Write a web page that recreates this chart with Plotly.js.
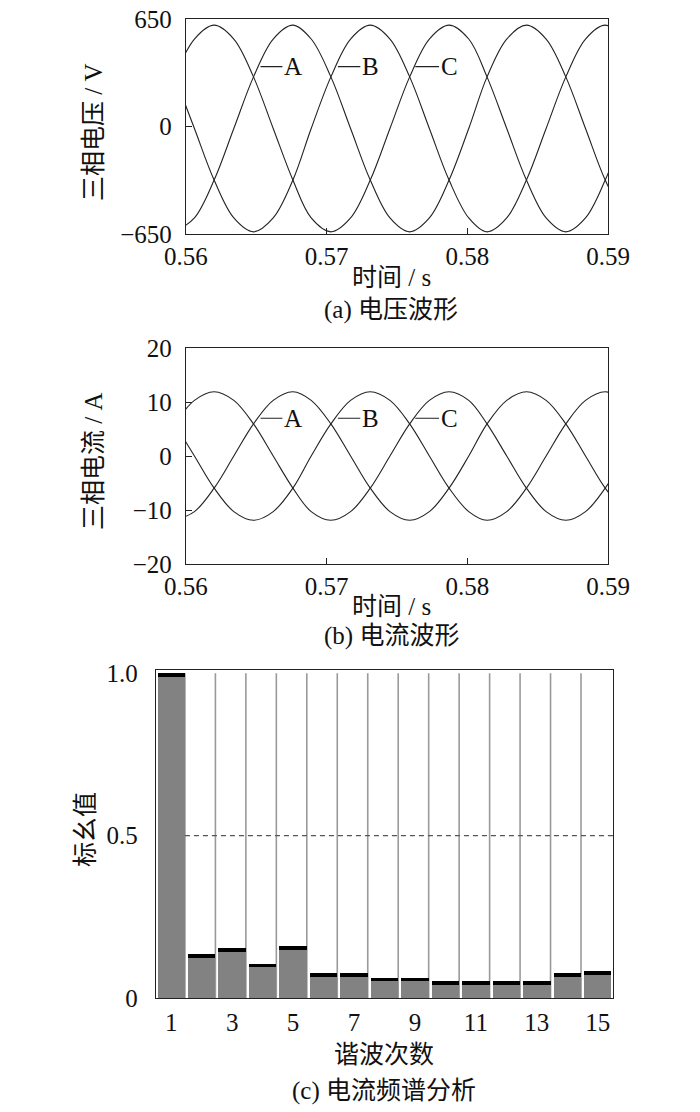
<!DOCTYPE html>
<html>
<head>
<meta charset="utf-8">
<script src="https://cdn.plot.ly/plotly-3.0.1.min.js"></script>
<style>
  html, body { margin: 0; padding: 0; background: #fff; }
  #chart { width: 700px; height: 1112px; }
</style>
</head>
<body>
<div id="chart"></div>
<script>
// ---- time axis (s) ----
const time = [0.5592, 0.5606, 0.5620, 0.5634, 0.5648, 0.5662, 0.5676, 0.5689,
              0.5703, 0.5717, 0.5731, 0.5745, 0.5759, 0.5773, 0.5787, 0.5801,
              0.5814, 0.5828, 0.5842, 0.5856, 0.5870, 0.5884, 0.5898, 0.5912];

// ---- three-phase voltage (V) ----
const voltA = [300, 529, 613, 529, 300, -12, -324, -553, -637, -553, -324, -12,
               300, 529, 613, 529, 300, -12, -324, -553, -637, -553, -324, -12];
const voltB = [-637, -553, -324, -12, 300, 529, 613, 529, 300, -12, -324, -553,
               -637, -553, -324, -12, 300, 529, 613, 529, 300, -12, -324, -553];
const voltC = [300, -12, -324, -553, -637, -553, -324, -12, 300, 529, 613, 529,
               300, -12, -324, -553, -637, -553, -324, -12, 300, 529, 613, 529];

// ---- three-phase current (A) ----
const currA = [5.95, 10.3, 11.9, 10.3, 5.95, 0, -5.95, -10.3, -11.9, -10.3, -5.95, 0,
               5.95, 10.3, 11.9, 10.3, 5.95, 0, -5.95, -10.3, -11.9, -10.3, -5.95, 0];
const currB = [-11.9, -10.3, -5.95, 0, 5.95, 10.3, 11.9, 10.3, 5.95, 0, -5.95, -10.3,
               -11.9, -10.3, -5.95, 0, 5.95, 10.3, 11.9, 10.3, 5.95, 0, -5.95, -10.3];
const currC = [5.95, 0, -5.95, -10.3, -11.9, -10.3, -5.95, 0, 5.95, 10.3, 11.9, 10.3,
               5.95, 0, -5.95, -10.3, -11.9, -10.3, -5.95, 0, 5.95, 10.3, 11.9, 10.3];

// ---- phase labels ----
const phaseNames = ['A', 'B', 'C'];
const labelPointT = [0.5653, 0.5708, 0.5763];
const labelTextT = [0.5676, 0.5731, 0.5787];
const voltLabelY = 362;
const currLabelY = 7.0;

// ---- axis ticks ----
const timeTicks = [0.56, 0.57, 0.58, 0.59];
const timeTickText = ['0.56', '0.57', '0.58', '0.59'];
const voltTicks = [-650, 0, 650];
const voltTickText = ['\u2212650', '0', '650'];
const currTicks = [-20, -10, 0, 10, 20];
const currTickText = ['\u221220', '\u221210', '0', '10', '20'];

// ---- current spectrum ----
const harmonicOrder = [1, 2, 3, 4, 5, 6, 7, 8, 9, 10, 11, 12, 13, 14, 15];
const harmonicValue = [1.00, 0.136, 0.154, 0.106, 0.160, 0.076, 0.076, 0.063, 0.063,
                       0.051, 0.051, 0.051, 0.051, 0.076, 0.082];
const harmonicTicks = [1, 3, 5, 7, 9, 11, 13, 15];
const spectrumTicks = [0, 0.5, 1.0];
const spectrumTickText = ['0', '0.5', '1.0'];
const refLevel = 0.5;
const capH = 0.012;

const SERIF = 'Liberation Serif, Noto Sans CJK SC, serif';
const FS = 25;
const lineCol = '#222';

function wave(x, y, xa, ya) {
  return { x: x, y: y, xaxis: xa, yaxis: ya, type: 'scatter', mode: 'lines',
           line: { color: lineCol, width: 1.1, shape: 'spline', smoothing: 1 },
           hoverinfo: 'skip', showlegend: false };
}

const traces = [
  wave(time, voltA, 'x', 'y'), wave(time, voltB, 'x', 'y'), wave(time, voltC, 'x', 'y'),
  wave(time, currA, 'x2', 'y2'), wave(time, currB, 'x2', 'y2'), wave(time, currC, 'x2', 'y2'),
  { x: harmonicOrder, y: harmonicValue, type: 'bar', xaxis: 'x3', yaxis: 'y3', width: 0.9,
    marker: { color: '#828282', line: { width: 0 } }, showlegend: false, hoverinfo: 'skip' },
  { x: harmonicOrder, y: harmonicValue.map(() => capH), base: harmonicValue.map(v => v - capH),
    type: 'bar', xaxis: 'x3', yaxis: 'y3', width: 0.9,
    marker: { color: '#000', line: { width: 0 } }, showlegend: false, hoverinfo: 'skip' }
];

function timeAxis() {
  return { domain: [0.2657, 0.8686], range: [0.56, 0.59], tickvals: timeTicks, ticktext: timeTickText,
           ticks: 'inside', ticklen: 6, tickcolor: '#222', showline: true, linecolor: '#222',
           linewidth: 1.2, mirror: true, showgrid: false, zeroline: false,
           tickfont: { family: SERIF, size: FS, color: '#111' }, ticklabelstandoff: 0, fixedrange: true };
}
function valAxis(dom, range, tv, tt) {
  return { domain: dom, range: range, tickvals: tv, ticktext: tt, ticks: 'inside', ticklen: 6,
           tickcolor: '#222', showline: true, linecolor: '#222', linewidth: 1.2, mirror: true,
           showgrid: false, zeroline: false, tickfont: { family: SERIF, size: FS, color: '#111' },
           ticklabelstandoff: 8, fixedrange: true };
}

const xa = timeAxis(); xa.anchor = 'y';
const xa2 = timeAxis(); xa2.anchor = 'y2';
const ya = valAxis([0.78957, 0.98291], [-650, 650], voltTicks, voltTickText); ya.anchor = 'x';
const ya2 = valAxis([0.49281, 0.68705], [-20, 20], currTicks, currTickText); ya2.anchor = 'x2';

const xa3 = { domain: [0.22286, 0.87571], range: [0.5, 15.5], anchor: 'y3', tickvals: harmonicTicks,
              ticks: '', showline: true, linecolor: '#222', linewidth: 1.2, mirror: true,
              showgrid: false, zeroline: false, tickfont: { family: SERIF, size: FS, color: '#111' },
              ticklabelstandoff: 2, fixedrange: true };
const ya3 = { domain: [0.10252, 0.39748], range: [0, 1.01], anchor: 'x3', tickvals: spectrumTicks,
              ticktext: spectrumTickText, ticks: '', showline: true, linecolor: '#222', linewidth: 1.2,
              mirror: true, showgrid: false, zeroline: false,
              tickfont: { family: SERIF, size: FS, color: '#111' }, ticklabelstandoff: 12, fixedrange: true };

// separators at right edge of each bar, and the dashed reference line
const shapes = harmonicOrder.slice(0, -1).map(k => ({
  type: 'line', xref: 'x3', yref: 'y3', x0: k + 0.45, x1: k + 0.45, y0: 0, y1: harmonicValue[0],
  line: { color: '#9a9a9a', width: 1.6 }, layer: 'below'
}));
shapes.push({ type: 'line', xref: 'x3', yref: 'y3', x0: harmonicOrder[0] + 0.45,
              x1: harmonicOrder[harmonicOrder.length - 1] + 0.5, y0: refLevel, y1: refLevel,
              line: { color: '#555', width: 1.2, dash: '5px,4px' } });

const annotations = [];
function txt(x, y, text, opts) {
  annotations.push(Object.assign({ xref: 'paper', yref: 'paper', x: x, y: y, text: text,
    showarrow: false, xanchor: 'center', yanchor: 'middle',
    font: { family: SERIF, size: FS, color: '#111' } }, opts || {}));
}
const H = 1112, W = 700;
txt(93 / W, 1 - 132 / H, '三相电压 / V', { textangle: -90 });
txt(391 / W, 1 - 277 / H, '时间 / s');
txt(391 / W, 1 - 310 / H, '(a) 电压波形');
txt(93 / W, 1 - 461 / H, '三相电流 / A', { textangle: -90 });
txt(391 / W, 1 - 606 / H, '时间 / s');
txt(391 / W, 1 - 636 / H, '(b) 电流波形');
txt(85 / W, 1 - 830 / H, '标幺值', { textangle: -90 });
txt(384 / W, 1 - 1054 / H, '谐波次数');
txt(384 / W, 1 - 1091 / H, '(c) 电流频谱分析');

phaseNames.forEach((n, i) => {
  annotations.push({ xref: 'x', yref: 'y', axref: 'x', ayref: 'y', x: labelPointT[i], y: voltLabelY,
    ax: labelTextT[i], ay: voltLabelY, text: n, showarrow: true, arrowhead: 0, arrowwidth: 1.1,
    arrowcolor: '#222', standoff: 0, font: { family: SERIF, size: FS, color: '#111' } });
  annotations.push({ xref: 'x2', yref: 'y2', axref: 'x2', ayref: 'y2', x: labelPointT[i], y: currLabelY,
    ax: labelTextT[i], ay: currLabelY, text: n, showarrow: true, arrowhead: 0, arrowwidth: 1.1,
    arrowcolor: '#222', standoff: 0, font: { family: SERIF, size: FS, color: '#111' } });
});

const layout = {
  width: W, height: H, margin: { l: 0, r: 0, t: 0, b: 0 },
  paper_bgcolor: '#fff', plot_bgcolor: '#fff', barmode: 'overlay', bargap: 0,
  xaxis: xa, yaxis: ya, xaxis2: xa2, yaxis2: ya2, xaxis3: xa3, yaxis3: ya3,
  shapes: shapes, annotations: annotations, showlegend: false
};

Plotly.newPlot('chart', traces, layout, { staticPlot: true, displayModeBar: false });
</script>
</body>
</html>
